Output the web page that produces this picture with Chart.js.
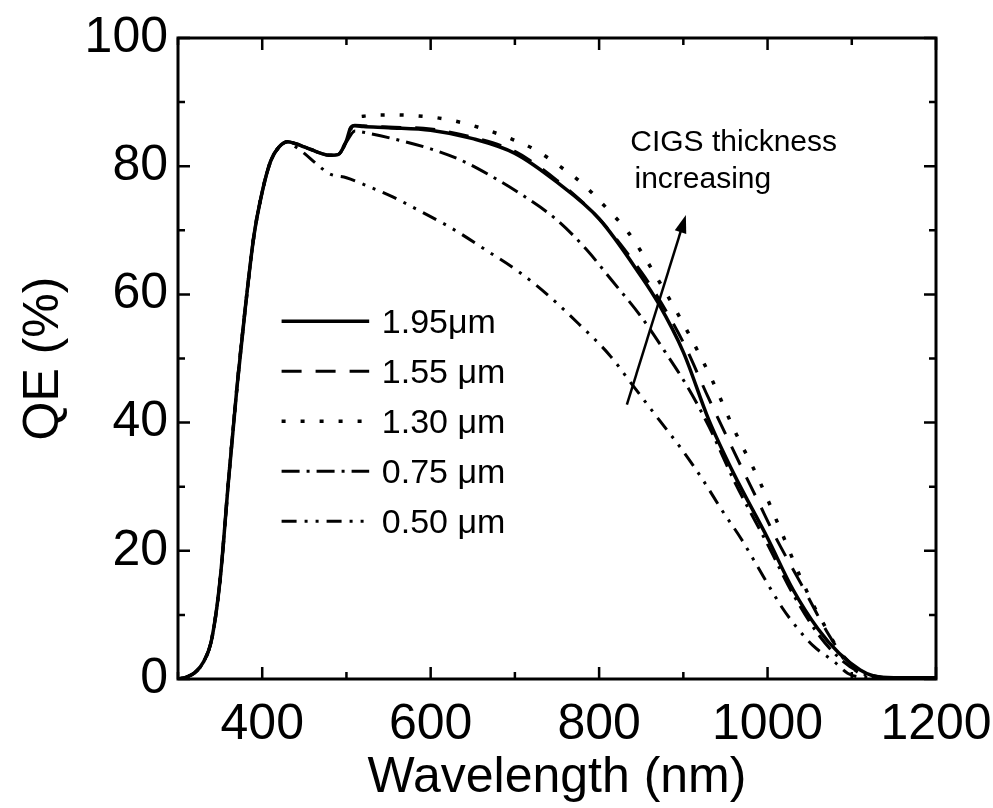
<!DOCTYPE html>
<html>
<head>
<meta charset="utf-8">
<script src="https://cdn.jsdelivr.net/npm/chart.js@4.4.1/dist/chart.umd.min.js"></script>
<style>
  body { margin: 0; background: #fff; }
  canvas { display: block; }
</style>
</head>
<body>
<canvas id="qeChart" width="993" height="808"></canvas>
<script>
// rising edge, shared by all five curves
const riseWl = [300, 310, 320, 330, 340, 350, 360, 370, 380, 390, 400, 410, 420, 430]
const riseQe = [0, 0.3, 1, 2.6, 6.2, 15.5, 31, 45.5, 58, 69, 76, 80.8, 83, 83.8]

const wl195 = [440, 450, 460, 470, 480, 490, 500, 505, 510, 520, 550, 600, 650, 700, 750, 800, 850, 870, 900, 930, 960, 1000, 1030, 1060, 1085, 1110, 1125, 1150, 1200]
const qe195 = [83.5, 83, 82.5, 82, 81.7, 81.8, 84, 86, 86.3, 86.2, 86, 85.6, 84.3, 82, 77.5, 71.8, 62.8, 58.7, 51, 40.5, 32, 22, 14, 7.8, 4, 1.4, 0.5, 0.2, 0.2]

const wl155 = [440, 450, 460, 470, 480, 490, 500, 505, 510, 520, 550, 600, 650, 700, 750, 800, 850, 870, 900, 930, 960, 990, 1010, 1040, 1070, 1090, 1110, 1130, 1150, 1200]
const qe155 = [83.5, 83, 82.5, 82, 81.7, 81.8, 84, 86, 86.4, 86.3, 86.1, 85.8, 84.5, 82.3, 77.8, 71.8, 63.5, 59.5, 52.5, 43.8, 35.5, 27.4, 22, 14.8, 7.5, 3.6, 1.3, 0.4, 0.2, 0.2]

const wl130 = [440, 450, 460, 470, 480, 490, 500, 510, 520, 550, 580, 610, 640, 670, 695, 725, 750, 780, 810, 835, 870, 905, 935, 960, 990, 1015, 1040, 1055, 1070, 1090, 1105, 1120, 1150, 1200]
const qe130 = [83.5, 83, 82.5, 82, 81.7, 81.8, 84, 87.2, 87.8, 88, 87.9, 87.5, 86.7, 85.5, 84.3, 82.5, 80.3, 77.3, 73.3, 69.6, 62.3, 54.2, 46.4, 39, 31, 23.4, 15.6, 11.4, 7.8, 3.3, 1.3, 0.4, 0.2, 0.2]

const wl075 = [440, 450, 460, 470, 480, 490, 500, 510, 520, 555, 600, 635, 670, 710, 750, 785, 815, 850, 877, 903, 930, 960, 1000, 1030, 1060, 1085, 1110, 1130, 1150, 1200]
const qe075 = [83.5, 83, 82.5, 82, 81.7, 81.8, 83.8, 85.5, 85.3, 84.3, 82.7, 81, 78.6, 75.4, 71.6, 67, 62.2, 56.5, 51.3, 46, 39.5, 31, 21, 13.3, 7, 3.3, 1, 0.3, 0.2, 0.2]

const wl050 = [440, 450, 465, 480, 500, 527, 555, 596, 624, 667, 705, 740, 775, 812, 840, 872, 900, 924, 945, 969, 995, 1017, 1035, 1054, 1080, 1095, 1110, 1150, 1200]
const qe050 = [83, 82, 80.3, 78.8, 78.2, 76.8, 75.2, 72.4, 70.4, 66.8, 63.5, 59.8, 55.5, 50.6, 45.8, 40.3, 35.5, 30.9, 26.5, 21.8, 16, 11.2, 8, 5.2, 2.6, 0.9, 0.3, 0.2, 0.2]

const labels = ['1.95\u03bcm', '1.55 \u03bcm', '1.30 \u03bcm', '0.75 \u03bcm', '0.50 \u03bcm']

const xTicks = [400, 600, 800, 1000, 1200]
const xMinor = [300, 500, 700, 900, 1100]
const yTicks = [0, 20, 40, 60, 80, 100]
const yMinor = [10, 30, 50, 70, 90]

const FONT = '"Liberation Sans", Arial, Helvetica, sans-serif'

// arrow and note, in data units
const arrowFrom = { x: 833, y: 42.8 }
const arrowTo = { x: 903, y: 72.4 }
const noteLines = [
    { text: 'CIGS thickness', x: 837, y: 82.3 },
    { text: 'increasing', x: 842, y: 76.6 }
]

function points(wl, qe) {
    const all = riseWl.map((w, i) => ({ x: w, y: riseQe[i] }))
    wl.forEach((w, i) => all.push({ x: w, y: qe[i] }))
    return all
}

const styles = [
    { dash: [], width: 3.5 },
    { dash: [20, 14], width: 3 },
    { dash: [4, 15], width: 3.5 },
    { dash: [18, 7, 3, 7], width: 3 },
    { dash: [15, 8, 3, 8, 3, 8], width: 3 }
]
const series = [[wl195, qe195], [wl155, qe155], [wl130, qe130], [wl075, qe075], [wl050, qe050]]

const datasets = series.map((s, i) => ({
    label: labels[i],
    data: points(s[0], s[1]),
    borderColor: '#000',
    borderWidth: styles[i].width,
    borderDash: styles[i].dash,
    fill: false,
    pointRadius: 0,
    cubicInterpolationMode: 'monotone'
}))

// frame, inward ticks, legend and the arrow note
const extrasPlugin = {
    id: 'extras',
    afterDatasetsDraw(chart) {
        const { ctx, chartArea: a } = chart
        const x = chart.scales.x
        const y = chart.scales.y
        ctx.save()
        ctx.strokeStyle = '#000'
        ctx.fillStyle = '#000'
        ctx.setLineDash([])

        ctx.lineWidth = 3
        ctx.strokeRect(a.left, a.top, a.right - a.left, a.bottom - a.top)

        ctx.lineWidth = 2.5
        const xTick = (v, len) => {
            const px = x.getPixelForValue(v)
            ctx.beginPath()
            ctx.moveTo(px, a.bottom); ctx.lineTo(px, a.bottom - len)
            ctx.moveTo(px, a.top); ctx.lineTo(px, a.top + len)
            ctx.stroke()
        }
        const yTick = (v, len) => {
            const py = y.getPixelForValue(v)
            ctx.beginPath()
            ctx.moveTo(a.left, py); ctx.lineTo(a.left + len, py)
            ctx.moveTo(a.right, py); ctx.lineTo(a.right - len, py)
            ctx.stroke()
        }
        xTicks.forEach(v => xTick(v, 12))
        xMinor.forEach(v => xTick(v, 7))
        yTicks.forEach(v => yTick(v, 12))
        yMinor.forEach(v => yTick(v, 7))

        // legend inside the plot
        const lx0 = x.getPixelForValue(423)
        const lx1 = x.getPixelForValue(527)
        const tx = x.getPixelForValue(542)
        ctx.font = '34px ' + FONT
        ctx.textBaseline = 'middle'
        ctx.textAlign = 'left'
        chart.data.datasets.forEach((ds, i) => {
            const py = y.getPixelForValue(55.8 - i * 7.8)
            ctx.lineWidth = ds.borderWidth
            ctx.setLineDash(ds.borderDash)
            ctx.beginPath()
            ctx.moveTo(lx0, py); ctx.lineTo(lx1, py)
            ctx.stroke()
            ctx.setLineDash([])
            ctx.fillText(ds.label, tx, py + 2)
        })

        // arrow
        const ax0 = x.getPixelForValue(arrowFrom.x), ay0 = y.getPixelForValue(arrowFrom.y)
        const ax1 = x.getPixelForValue(arrowTo.x), ay1 = y.getPixelForValue(arrowTo.y)
        const ang = Math.atan2(ay1 - ay0, ax1 - ax0)
        ctx.lineWidth = 2.5
        ctx.beginPath()
        ctx.moveTo(ax0, ay0); ctx.lineTo(ax1 - 10 * Math.cos(ang), ay1 - 10 * Math.sin(ang))
        ctx.stroke()
        ctx.beginPath()
        ctx.moveTo(ax1, ay1)
        ctx.lineTo(ax1 - 18 * Math.cos(ang) + 6 * Math.sin(ang), ay1 - 18 * Math.sin(ang) - 6 * Math.cos(ang))
        ctx.lineTo(ax1 - 18 * Math.cos(ang) - 6 * Math.sin(ang), ay1 - 18 * Math.sin(ang) + 6 * Math.cos(ang))
        ctx.closePath()
        ctx.fill()

        ctx.font = '30px ' + FONT
        ctx.textBaseline = 'alphabetic'
        noteLines.forEach(n => {
            ctx.fillText(n.text, x.getPixelForValue(n.x), y.getPixelForValue(n.y))
        })
        ctx.restore()
    }
}

const ctx = document.getElementById('qeChart').getContext('2d')
new Chart(ctx, {
    type: 'line',
    data: { datasets: datasets },
    options: {
        responsive: false,
        animation: false,
        layout: { padding: { top: 38, right: 57, bottom: 0, left: 0 } },
        plugins: {
            legend: { display: false },
            tooltip: { enabled: false }
        },
        scales: {
            x: {
                type: 'linear',
                min: 300,
                max: 1200,
                afterBuildTicks: s => { s.ticks = xTicks.map(v => ({ value: v })) },
                afterFit: s => { s.height = 129; s.paddingRight = 0; s.paddingLeft = 0 },
                grid: { display: false, drawTicks: false },
                border: { display: false },
                ticks: { autoSkip: false, maxRotation: 0, padding: 16, color: '#000', font: { family: FONT, size: 50 }, callback: v => String(v) },
                title: { display: true, text: 'Wavelength (nm)', color: '#000', padding: { top: 0, bottom: 0 }, font: { family: FONT, size: 50 } }
            },
            y: {
                min: 0,
                max: 100,
                afterBuildTicks: s => { s.ticks = yTicks.map(v => ({ value: v })) },
                afterFit: s => { s.width = 178; s.paddingTop = 0; s.paddingBottom = 0 },
                grid: { display: false, drawTicks: false },
                border: { display: false },
                ticks: { autoSkip: false, padding: 10, color: '#000', font: { family: FONT, size: 50 }, callback: v => String(v) },
                title: { display: true, text: 'QE (%)', color: '#000', padding: { top: 14, bottom: 0 }, font: { family: FONT, size: 50 } }
            }
        }
    },
    plugins: [extrasPlugin]
})
</script>
</body>
</html>
